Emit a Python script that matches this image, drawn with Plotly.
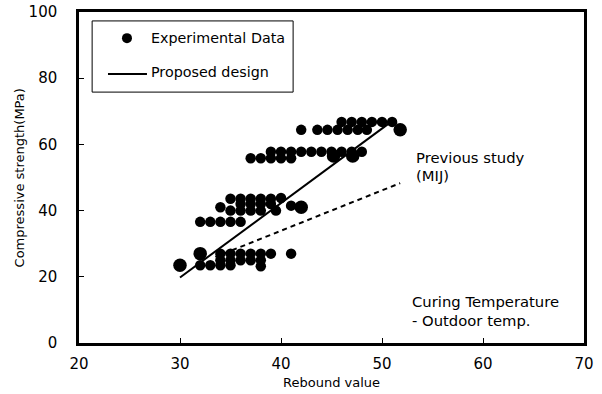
import plotly.graph_objects as go

# Experimental data (rebound value, compressive strength MPa); big = larger marker
exp_x = [30, 32, 33, 34, 35, 38,
         32, 34, 35, 36, 37, 38, 39, 41,
         34, 35, 36, 37, 38,
         32, 33, 34, 35, 36,
         34, 35, 36, 37, 38, 39, 40,
         36, 37, 38, 39,
         35, 36, 37, 38, 39.5, 41, 42,
         37, 38, 39, 40, 41, 45.2, 47.1,
         39, 40, 41, 42, 43, 44, 45, 46, 47, 48,
         42, 43.6, 44.6, 45.6, 46.6, 47.6, 48.5, 51.8,
         46, 47, 48, 49, 50, 51]
exp_y = [23.5, 23.5, 23.5, 23.5, 23.5, 23.2,
         27, 27, 27, 27, 27, 27, 27, 27,
         25, 25, 25, 25, 25,
         36.6, 36.6, 36.6, 36.6, 36.6,
         41, 43.6, 43.6, 43.6, 43.6, 43.6, 43.8,
         42, 42, 42, 42,
         40, 40, 40, 40, 40, 41.5, 41,
         55.8, 55.8, 55.8, 55.8, 55.8, 56.5, 56.5,
         57.8, 57.8, 57.8, 57.8, 57.8, 57.8, 57.8, 57.8, 57.8, 57.8,
         64.4, 64.4, 64.4, 64.4, 64.4, 64.4, 64.4, 64.4,
         66.8, 66.8, 66.8, 66.8, 66.8, 66.8]
exp_big = [1, 0, 0, 0, 0, 0,
           1, 0, 0, 0, 0, 0, 0, 0,
           0, 0, 0, 0, 0,
           0, 0, 0, 0, 0,
           0, 0, 0, 0, 0, 0, 0,
           0, 0, 0, 0,
           0, 0, 0, 0, 0, 0, 1,
           0, 0, 0, 0, 0, 1, 1,
           0, 0, 0, 0, 0, 0, 0, 0, 0, 0,
           0, 0, 0, 0, 0, 0, 0, 1,
           0, 0, 0, 0, 0, 0]

# Proposed design line
prop_x = [30, 51.3]
prop_y = [19.8, 67.7]
# Previous study (MIJ)
mij_x = [33.5, 51.8]
mij_y = [26, 48.3]

x_ticks = [20, 30, 40, 50, 60, 70]
y_ticks = [0, 20, 40, 60, 80, 100]

FONT = "DejaVu Sans, Verdana, sans-serif"

fig = go.Figure()
fig.add_trace(go.Scatter(x=prop_x, y=prop_y, mode="lines",
                         line=dict(color="black", width=2), showlegend=False))
fig.add_trace(go.Scatter(x=mij_x, y=mij_y, mode="lines",
                         line=dict(color="black", width=2, dash="5px,4px"), showlegend=False))
fig.add_trace(go.Scatter(x=exp_x, y=exp_y, mode="markers",
                         marker=dict(color="black", opacity=1, line=dict(width=0),
                                     size=[13.5 if b else 10.5 for b in exp_big]),
                         showlegend=False))

# Legend box
fig.add_shape(type="rect", xref="paper", yref="paper", x0=0.026, x1=0.424, y0=0.758, y1=0.973,
              line=dict(color="black", width=1), fillcolor="white", layer="below")
fig.add_trace(go.Scatter(x=[24.75], y=[92.1], mode="markers",
                         marker=dict(color="black", size=10, line=dict(width=0)),
                         showlegend=False))
fig.add_trace(go.Scatter(x=[22.87, 26.73], y=[81.3, 81.3], mode="lines",
                         line=dict(color="black", width=2), showlegend=False))
leg_font = dict(family=FONT, size=14.3, color="black")
fig.add_annotation(x=26.9, y=92.1, text="Experimental Data", showarrow=False, xanchor="left",
                   font=leg_font)
fig.add_annotation(x=26.9, y=81.8, text="Proposed design", showarrow=False, xanchor="left",
                   font=leg_font)

ann_font = dict(family=FONT, size=14.8, color="black")
fig.add_annotation(x=53.2, y=56.0, text="Previous study", showarrow=False, xanchor="left",
                   font=ann_font)
fig.add_annotation(x=53.2, y=50.6, text="(MIJ)", showarrow=False, xanchor="left",
                   font=ann_font)
fig.add_annotation(x=52.8, y=12.4, text="Curing Temperature", showarrow=False, xanchor="left",
                   font=ann_font)
fig.add_annotation(x=52.8, y=6.8, text="- Outdoor temp.", showarrow=False, xanchor="left",
                   font=ann_font)

# Axis titles
title_font = dict(family=FONT, size=13, color="black")
fig.add_annotation(xref="paper", yref="paper", x=0.5, y=-0.118, text="Rebound value",
                   xanchor="center", yanchor="middle", showarrow=False, font=title_font)
fig.add_annotation(xref="paper", yref="paper", x=-0.117, y=0.5,
                   text="Compressive strength(MPa)", textangle=-90, showarrow=False,
                   xanchor="center", yanchor="middle", font=title_font)

fig.update_layout(
    width=602, height=394,
    margin=dict(l=79, r=18, t=12, b=51),
    paper_bgcolor="white", plot_bgcolor="white",
    font=dict(family=FONT, size=15, color="black"),
    xaxis=dict(range=[20, 70], tickvals=x_ticks, showgrid=False, zeroline=False,
               showline=True, linecolor="black", linewidth=2.5, mirror=True,
               ticks="inside", ticklen=5, tickcolor="black", tickwidth=1,
               tickfont=dict(family=FONT, size=15), ticklabelstandoff=5,
               automargin=False),
    yaxis=dict(range=[0, 100], tickvals=y_ticks, showgrid=False, zeroline=False,
               showline=True, linecolor="black", linewidth=2.5, mirror=True,
               ticks="inside", ticklen=5, tickcolor="black", tickwidth=1,
               tickfont=dict(family=FONT, size=15), ticklabelstandoff=16,
               automargin=False),
)

fig.write_html("out.html")
